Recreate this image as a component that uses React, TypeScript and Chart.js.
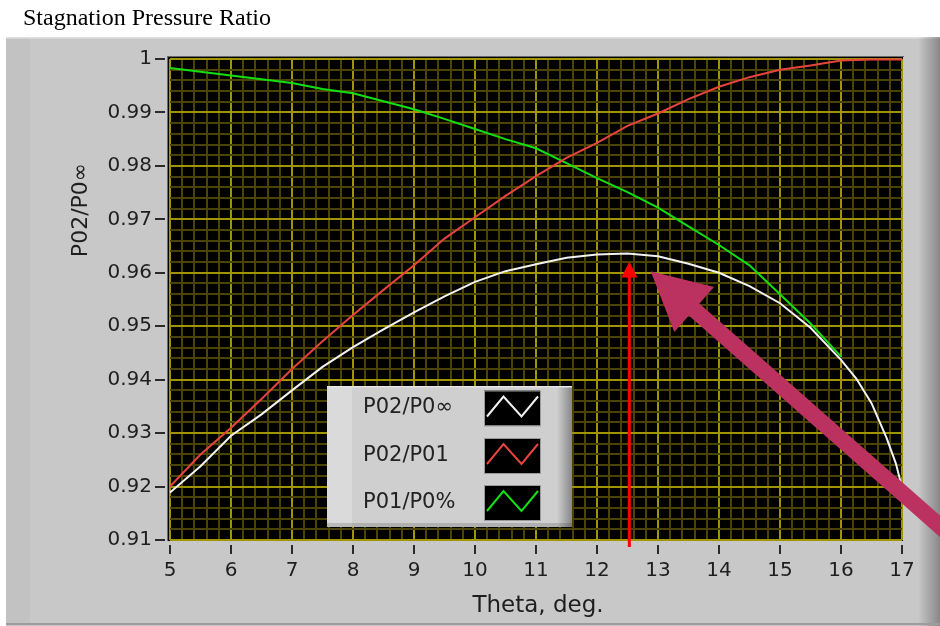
import React, { useEffect, useRef } from 'react';
import { Chart, registerables } from 'chart.js';

Chart.register(...registerables);

// ---- Data ----
const thetaWhite = [5, 5.5, 6, 6.5, 7, 7.5, 8, 8.5, 9, 9.5, 10, 10.5, 11, 11.5, 12, 12.5, 13, 13.5, 14, 14.5, 15, 15.5, 16, 16.25, 16.5, 16.75, 16.9, 17];
const p02OverP0inf = [0.9189, 0.9238, 0.9295, 0.9335, 0.938, 0.9424, 0.9461, 0.9494, 0.9526, 0.9556, 0.9583, 0.9603, 0.9616, 0.9628, 0.9634, 0.9636, 0.9631, 0.9617, 0.96, 0.9575, 0.9543, 0.9497, 0.9437, 0.9402, 0.9356, 0.929, 0.9243, 0.9198];

const thetaRed = [5, 5.5, 6, 6.5, 7, 7.5, 8, 8.5, 9, 9.5, 10, 10.5, 11, 11.5, 12, 12.5, 13, 13.5, 14, 14.5, 15, 15.5, 16, 16.5, 17];
const p02OverP01 = [0.92, 0.926, 0.931, 0.9364, 0.942, 0.9472, 0.9521, 0.9568, 0.9614, 0.9664, 0.9704, 0.9744, 0.9781, 0.9815, 0.9843, 0.9875, 0.9898, 0.9925, 0.9948, 0.9966, 0.998, 0.9988, 0.9997, 0.9999, 0.9999];

const thetaGreen = [5, 5.5, 6, 6.5, 7, 7.5, 8, 8.5, 9, 9.5, 10, 10.5, 11, 11.5, 12, 12.5, 13, 13.5, 14, 14.5, 15, 15.5, 16];
const p01OverP0 = [0.9983, 0.9976, 0.9969, 0.9962, 0.9955, 0.9944, 0.9936, 0.9921, 0.9906, 0.9888, 0.9869, 0.985, 0.9833, 0.9805, 0.9777, 0.9751, 0.9722, 0.9687, 0.9652, 0.9614, 0.956, 0.9505, 0.9443];

const seriesLabels = ['P02/P0∞', 'P02/P01', 'P01/P0%'];
const seriesColors = ['#f2f2f2', '#e8443e', '#12e012'];

const xMin = 5, xMax = 17, xMinorStep = 0.2;
const yMin = 0.91, yMax = 1.0, yMinorStep = 0.002;

const chartTitle = 'Stagnation Pressure Ratio';
const xTitle = 'Theta, deg.';
const yTitle = 'P02/P0∞';

// annotation anchors (data units)
const peakArrow = { x: 12.53, yTip: 0.9621, yTail: 0.9087 };
const bigArrow = { tipX: 12.88, tipY: 0.9603, tailX: 17.76, tailY: 0.9112 };

const MAJOR = '#a09400';
const MINOR = '#4a4400';
const FONT = '"DejaVu Sans", Verdana, sans-serif';

const isMajorX = (v: number) => Math.abs(v - Math.round(v)) < 1e-6;
const isMajorY = (v: number) => Math.abs(v * 100 - Math.round(v * 100)) < 1e-6;

const toPts = (xs: number[], ys: number[]) => xs.map((x, i) => ({ x, y: ys[i] }));

const framePlugin = {
  id: 'frame',
  beforeDraw(chart: any) {
    const ctx = chart.ctx as CanvasRenderingContext2D;
    const { left, top, right, bottom } = chart.chartArea;
    const W = chart.width, H = chart.height;
    ctx.save();
    ctx.fillStyle = '#ffffff';
    ctx.fillRect(0, 0, W, H);
    // title
    ctx.fillStyle = '#000000';
    ctx.font = '24px "Liberation Serif", "Times New Roman", serif';
    ctx.textBaseline = 'alphabetic';
    ctx.textAlign = 'left';
    ctx.fillText(chartTitle, 23, 25);
    // panel
    ctx.fillStyle = '#c8c8c8';
    ctx.fillRect(6, 37, W - 6, H - 37);
    ctx.fillStyle = '#c2c2c2';
    ctx.fillRect(6, 38, 24, H - 40);
    ctx.fillStyle = '#e2e2e2';
    ctx.fillRect(6, 37, W - 6, 1.5);
    const g = ctx.createLinearGradient(918, 0, W, 0);
    g.addColorStop(0, 'rgba(0,0,0,0)');
    g.addColorStop(1, 'rgba(0,0,0,0.32)');
    ctx.fillStyle = g;
    ctx.fillRect(918, 37, W - 918, H - 37);
    ctx.fillStyle = '#9c9c9c';
    ctx.fillRect(6, H - 3, W - 6, 2);
    // plot background
    ctx.fillStyle = '#000000';
    ctx.fillRect(left - 2, top - 2, right - left + 3, bottom - top + 3);
    ctx.fillStyle = '#6a6a6a';
    ctx.fillRect(left - 3, top - 3, 1, bottom - top + 4);
    ctx.fillRect(left - 3, top - 3, right - left + 5, 1);
    ctx.restore();
  },
  afterDraw(chart: any) {
    const ctx = chart.ctx as CanvasRenderingContext2D;
    const { left, bottom } = chart.chartArea;
    const xs = chart.scales.x, ys = chart.scales.y;
    ctx.save();
    // tick marks (majors only)
    ctx.strokeStyle = '#2a2a2a';
    ctx.lineWidth = 2;
    for (let v = xMin; v <= xMax + 1e-9; v += 1) {
      const px = Math.round(xs.getPixelForValue(v));
      ctx.beginPath();
      ctx.moveTo(px, bottom + 5);
      ctx.lineTo(px, bottom + 14);
      ctx.stroke();
    }
    for (let k = 0; k <= 9; k++) {
      const v = yMin + k * 0.01;
      const py = Math.round(ys.getPixelForValue(v));
      ctx.beginPath();
      ctx.moveTo(left - 15, py);
      ctx.lineTo(left - 5, py);
      ctx.stroke();
    }
    // axis titles
    ctx.fillStyle = '#1e1e1e';
    ctx.font = `23px ${FONT}`;
    ctx.textAlign = 'center';
    ctx.textBaseline = 'middle';
    ctx.fillText(xTitle, 538, 606);
    ctx.save();
    ctx.translate(81, 210);
    ctx.rotate(-Math.PI / 2);
    ctx.font = `22px ${FONT}`;
    ctx.fillText(yTitle, 0, 0);
    ctx.restore();

    // legend box
    const bx = 327, by = 386, bw = 245, bh = 141;
    ctx.fillStyle = '#cfcfcf';
    ctx.fillRect(bx, by, bw, bh);
    ctx.fillStyle = '#dadada';
    ctx.fillRect(bx, by, 25, bh);
    const rg = ctx.createLinearGradient(bx + bw - 15, 0, bx + bw, 0);
    rg.addColorStop(0, 'rgba(0,0,0,0)');
    rg.addColorStop(1, 'rgba(0,0,0,0.35)');
    ctx.fillStyle = rg;
    ctx.fillRect(bx + bw - 15, by, 15, bh);
    ctx.fillStyle = '#e6e6e6';
    ctx.fillRect(bx, by, bw, 1.5);
    ctx.fillStyle = 'rgba(0,0,0,0.15)';
    ctx.fillRect(bx, by + bh - 4, bw, 4);
    const rows = [408, 455.5, 502.5];
    ctx.font = `21px ${FONT}`;
    ctx.textAlign = 'left';
    ctx.textBaseline = 'middle';
    rows.forEach((cy, i) => {
      ctx.fillStyle = '#222222';
      ctx.fillText(seriesLabels[i], 363, cy);
      const sx = 484, sy = cy - 17.5;
      ctx.fillStyle = '#000000';
      ctx.fillRect(sx, sy, 56, 35);
      ctx.strokeStyle = '#9a9a9a';
      ctx.lineWidth = 1;
      ctx.strokeRect(sx + 0.5, sy + 0.5, 56, 35);
      ctx.strokeStyle = seriesColors[i];
      ctx.lineWidth = 2;
      ctx.beginPath();
      ctx.moveTo(sx + 3, sy + 26);
      ctx.lineTo(sx + 19.5, sy + 6);
      ctx.lineTo(sx + 37.5, sy + 26);
      ctx.lineTo(sx + 54, sy + 6);
      ctx.stroke();
    });

    // red peak arrow
    const ax = xs.getPixelForValue(peakArrow.x);
    const aTip = ys.getPixelForValue(peakArrow.yTip);
    const aTail = ys.getPixelForValue(peakArrow.yTail);
    ctx.strokeStyle = '#ff0000';
    ctx.fillStyle = '#ff0000';
    ctx.lineWidth = 3;
    ctx.beginPath();
    ctx.moveTo(ax, aTail);
    ctx.lineTo(ax, aTip + 14);
    ctx.stroke();
    ctx.beginPath();
    ctx.moveTo(ax, aTip);
    ctx.lineTo(ax - 8, aTip + 16);
    ctx.lineTo(ax + 8, aTip + 16);
    ctx.closePath();
    ctx.fill();

    // big magenta arrow
    const tx = xs.getPixelForValue(bigArrow.tipX), ty = ys.getPixelForValue(bigArrow.tipY);
    const lx = xs.getPixelForValue(bigArrow.tailX), ly = ys.getPixelForValue(bigArrow.tailY);
    const dx = lx - tx, dy = ly - ty;
    const len = Math.hypot(dx, dy);
    const ux = dx / len, uy = dy / len;
    const headLen = 58, headHalf = 30;
    const hbx = tx + ux * headLen, hby = ty + uy * headLen;
    ctx.strokeStyle = '#bb3160';
    ctx.fillStyle = '#bb3160';
    ctx.lineWidth = 16;
    ctx.lineCap = 'butt';
    ctx.beginPath();
    ctx.moveTo(hbx - ux * 4, hby - uy * 4);
    ctx.lineTo(lx, ly);
    ctx.stroke();
    ctx.beginPath();
    ctx.moveTo(tx, ty);
    ctx.lineTo(hbx - uy * headHalf, hby + ux * headHalf);
    ctx.lineTo(hbx + uy * headHalf, hby - ux * headHalf);
    ctx.closePath();
    ctx.fill();
    ctx.restore();
  },
};

export default function App() {
  const ref = useRef<HTMLCanvasElement>(null);
  useEffect(() => {
    if (!ref.current) return;
    const common = { borderWidth: 2, pointRadius: 0, tension: 0, fill: false, clip: 4 };
    const chart = new Chart(ref.current, {
      type: 'line',
      data: {
        datasets: [
          { ...common, label: seriesLabels[0], data: toPts(thetaWhite, p02OverP0inf), borderColor: seriesColors[0] },
          { ...common, label: seriesLabels[1], data: toPts(thetaRed, p02OverP01), borderColor: seriesColors[1] },
          { ...common, label: seriesLabels[2], data: toPts(thetaGreen, p01OverP0), borderColor: seriesColors[2] },
        ],
      },
      options: {
        animation: false,
        responsive: false,
        devicePixelRatio: 1,
        events: [],
        layout: { padding: { left: 70, right: 38, top: 59, bottom: 36 } },
        plugins: { legend: { display: false }, tooltip: { enabled: false }, title: { display: false } },
        scales: {
          x: {
            type: 'linear',
            min: xMin,
            max: xMax,
            afterFit: (s: any) => { s.height = 50; },
            border: { display: false },
            grid: {
              drawTicks: false,
              color: (c: any) => (isMajorX(c.tick.value) ? MAJOR : MINOR),
              lineWidth: (c: any) => (isMajorX(c.tick.value) ? 2 : 2),
            },
            ticks: {
              stepSize: xMinorStep,
              autoSkip: false,
              maxRotation: 0,
              minRotation: 0,
              padding: 19,
              color: '#1e1e1e',
              font: { family: FONT, size: 20 },
              callback: (v: any) => (isMajorX(Number(v)) ? String(Math.round(Number(v))) : ''),
            },
          },
          y: {
            type: 'linear',
            min: yMin,
            max: yMax,
            afterFit: (s: any) => { s.width = 100; },
            border: { display: false },
            grid: {
              drawTicks: false,
              color: (c: any) => (isMajorY(c.tick.value) ? MAJOR : MINOR),
              lineWidth: (c: any) => (isMajorY(c.tick.value) ? 2 : 2),
            },
            ticks: {
              stepSize: yMinorStep,
              autoSkip: false,
              padding: 18,
              color: '#1e1e1e',
              font: { family: FONT, size: 20 },
              callback: (v: any) => (isMajorY(Number(v)) ? String(Number(Number(v).toFixed(2))) : ''),
            },
          },
        },
      },
      plugins: [framePlugin],
    } as any);
    return () => chart.destroy();
  }, []);
  return (
    <div style={{ position: 'fixed', left: 0, top: 0, width: 940, height: 626 }}>
      <canvas ref={ref} width={940} height={626} style={{ width: 940, height: 626, display: 'block' }} />
    </div>
  );
}
